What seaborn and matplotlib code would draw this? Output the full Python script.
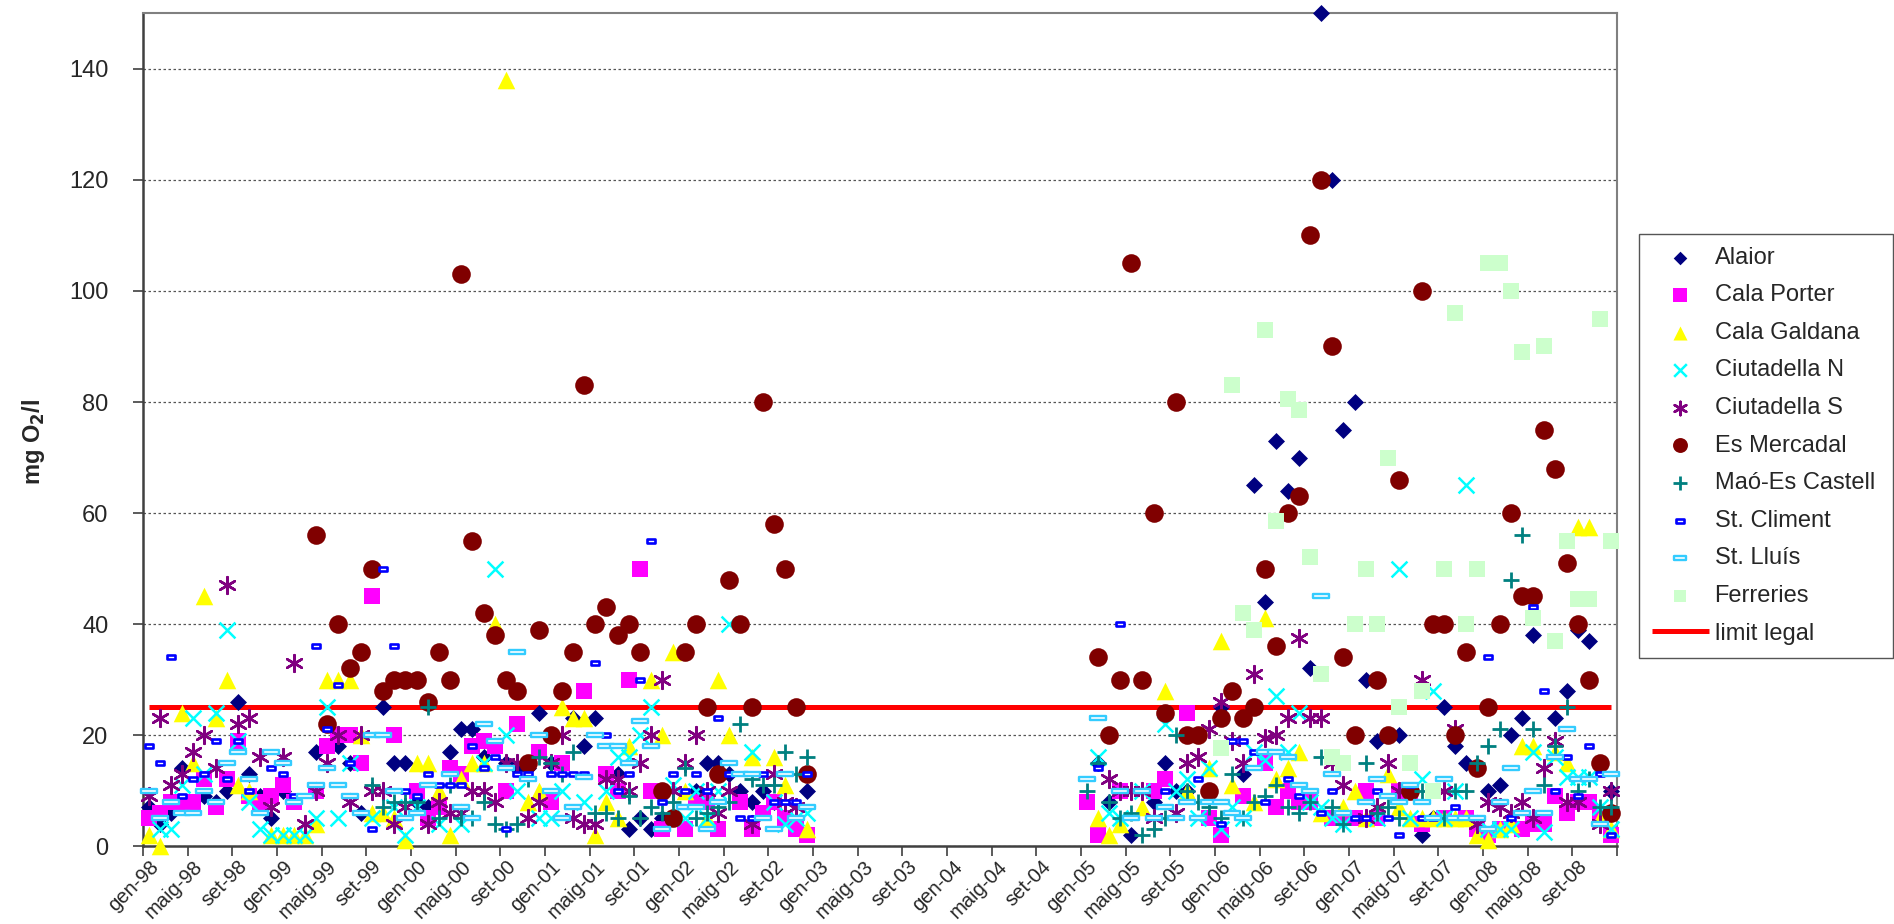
#!/usr/bin/env python3
"""
DQO a les depuradores de Menorca (1998-2008), mg O2/l per mes.
Punts mensuals per estació i la línia del límit legal.
"""

import matplotlib.pyplot as plt
import numpy as np
import pandas as pd
import seaborn as sns
from matplotlib.path import Path

# ── Categories (mesos) ─────────────────────────────────────────
MESOS = ["gen", "feb", "març", "abr", "maig", "juny",
         "jul", "ag", "set", "oct", "nov", "des"]
ANYS = ["98", "99", "00", "01", "02", "03", "04", "05", "06", "07", "08"]
CATEGORIES = [f"{m}-{a}" for a in ANYS for m in MESOS]
TICK_LABELS = CATEGORIES[::4]

LIMIT_LEGAL = 25

# ── Valors per estació {índex del mes: mg O2/l} ────────────────
ALAIOR = {0: 7, 1: 4, 2: 6, 3: 14, 5: 9, 6: 8, 7: 10, 8: 26, 9: 13, 10: 9,
          11: 5, 12: 10, 15: 17, 17: 18, 18: 15, 19: 6, 21: 25, 22: 15,
          23: 15, 24: 8, 25: 7, 27: 17, 28: 21, 29: 21, 30: 16, 32: 15,
          33: 14, 34: 14, 35: 24, 36: 15, 38: 23, 39: 18, 40: 23, 42: 13,
          43: 3, 44: 5, 45: 3, 46: 5, 49: 10, 50: 15, 51: 15, 52: 13,
          53: 10, 54: 8, 55: 10, 56: 8, 59: 10,
          85: 15, 86: 8, 88: 2, 90: 8, 91: 15, 92: 10, 93: 10, 96: 25,
          98: 13, 99: 65, 100: 44, 101: 73, 102: 64, 103: 70, 104: 32,
          105: 150, 106: 120, 107: 75, 108: 80, 109: 30, 110: 19, 112: 20,
          114: 2, 115: 5, 116: 25, 117: 18, 118: 15, 120: 10, 121: 11,
          122: 20, 123: 23, 124: 38, 126: 23, 127: 28, 128: 39, 129: 37,
          131: 10}
CALA_PORTER = {0: 5, 1: 6, 2: 8, 3: 8, 4: 8, 5: 12, 6: 7, 7: 12, 8: 19, 9: 9,
               10: 8, 11: 9, 12: 11, 13: 8, 15: 10, 16: 18, 17: 20, 18: 20,
               19: 15, 20: 45, 22: 20, 24: 10, 25: 5, 26: 7, 27: 14, 28: 13,
               29: 18, 30: 19, 31: 18, 32: 10, 33: 22, 35: 17, 36: 8, 37: 15,
               39: 28, 41: 13, 42: 10, 43: 30, 44: 50, 45: 10, 46: 3, 48: 3,
               49: 8, 50: 8, 51: 3, 53: 8, 54: 3, 55: 6, 56: 8, 57: 5, 58: 3,
               59: 2,
               84: 8, 85: 2, 87: 10, 90: 10, 91: 12, 93: 24, 95: 5, 96: 2,
               98: 9, 100: 15, 101: 7, 102: 10, 103: 8, 104: 8, 106: 5,
               107: 5, 108: 5, 109: 10, 110: 5, 112: 10, 113: 10, 114: 4,
               116: 5, 118: 5, 119: 3, 120: 2, 121: 3, 123: 3, 124: 4,
               125: 4, 126: 9, 127: 6, 128: 8, 129: 8, 130: 5, 131: 2}
CALA_GALDANA = {0: 2, 1: 0, 3: 24, 4: 15, 5: 45, 6: 23, 7: 30, 8: 11, 9: 10,
                11: 2, 12: 2, 13: 2, 14: 2, 15: 4, 16: 30, 17: 30, 18: 30,
                19: 20, 20: 6, 21: 6, 22: 5, 23: 1, 24: 15, 25: 15, 26: 10,
                27: 2, 28: 12, 29: 15, 30: 15, 31: 40, 32: 138, 34: 8, 35: 10,
                37: 25, 38: 23, 39: 23, 40: 2, 41: 8, 42: 5, 43: 18, 45: 30,
                46: 20, 47: 35, 48: 10, 50: 5, 51: 30, 52: 20, 54: 16, 56: 16,
                57: 11, 59: 3,
                85: 5, 86: 2, 87: 4, 89: 7, 91: 28, 93: 10, 95: 14, 96: 37,
                97: 11, 99: 8, 100: 41, 101: 12, 102: 14, 103: 17, 105: 6,
                107: 7, 108: 10, 109: 5, 111: 13, 112: 7, 113: 5, 114: 5,
                115: 5, 116: 5, 117: 5, 118: 5, 119: 2, 120: 1, 121: 3,
                122: 4, 123: 18, 124: 18, 126: 17, 127: 15, 128: 57.5,
                129: 57.5, 130: 5, 131: 3}
CIUTADELLA_N = {1: 3, 2: 3, 3: 11, 4: 23, 5: 13, 6: 24, 7: 39, 8: 19, 9: 8,
                10: 3, 11: 2, 12: 2, 13: 2, 14: 2, 15: 5, 16: 25, 17: 5,
                18: 15, 20: 5, 22: 7, 23: 2, 24: 7, 26: 4, 28: 4, 30: 15,
                31: 50, 32: 20, 33: 10, 35: 5, 36: 5, 37: 10, 39: 8, 41: 10,
                42: 16, 43: 16, 44: 20, 45: 25, 47: 11, 48: 5, 49: 10, 50: 5,
                51: 10, 52: 40, 54: 17, 56: 8, 57: 4, 58: 5, 59: 6,
                85: 16, 86: 6, 87: 5, 89: 10, 91: 22, 92: 10, 93: 12, 94: 5,
                95: 14, 96: 3, 97: 7, 98: 5, 99: 17, 100: 15.5, 101: 27,
                102: 17, 103: 24, 104: 8, 105: 7, 106: 5, 107: 4, 110: 5,
                112: 50, 113: 5, 114: 12, 115: 28, 116: 5, 117: 10, 118: 65,
                120: 3, 121: 3, 122: 3, 124: 17, 125: 2.6, 126: 16, 127: 12.5,
                128: 12.5, 129: 12.5, 130: 7, 131: 3}
CIUTADELLA_S = {0: 9, 1: 23, 2: 11, 3: 13, 4: 17, 5: 20, 6: 14, 7: 47, 8: 22,
                9: 23, 10: 16, 11: 7, 12: 16, 13: 33, 14: 4, 15: 10, 16: 15,
                17: 20, 18: 8, 19: 20, 20: 10, 21: 10, 22: 4, 23: 7, 25: 4,
                26: 8, 27: 6, 28: 6, 29: 10, 30: 10, 31: 8, 32: 15, 33: 15,
                34: 5, 35: 8, 36: 15, 37: 20, 38: 5, 39: 4, 40: 4, 41: 12,
                42: 12, 43: 10, 44: 15, 45: 20, 46: 30, 47: 10, 48: 15, 49: 20,
                50: 10, 51: 6, 52: 10, 54: 4, 56: 13, 57: 8, 58: 7,
                86: 12, 87: 10, 88: 10, 89: 10, 90: 5, 92: 6, 93: 15, 94: 16,
                95: 21, 96: 26, 97: 19, 98: 15, 99: 31, 100: 19.5, 101: 20,
                102: 23, 103: 37.5, 104: 23, 105: 23, 106: 15, 107: 11, 109: 5,
                110: 7, 111: 15, 112: 10, 114: 30, 116: 10, 117: 21, 119: 4,
                120: 8, 121: 7, 122: 6, 123: 8, 124: 5, 125: 14, 126: 19,
                127: 8, 128: 8, 130: 4, 131: 10}
ES_MERCADAL = {15: 56, 16: 22, 17: 40, 18: 32, 19: 35, 20: 50, 21: 28, 22: 30,
               23: 30, 24: 30, 25: 26, 26: 35, 27: 30, 28: 103, 29: 55, 30: 42,
               31: 38, 32: 30, 33: 28, 34: 15, 35: 39, 36: 20, 37: 28, 38: 35,
               39: 83, 40: 40, 41: 43, 42: 38, 43: 40, 44: 35, 46: 10, 47: 5,
               48: 35, 49: 40, 50: 25, 51: 13, 52: 48, 53: 40, 54: 25, 55: 80,
               56: 58, 57: 50, 58: 25, 59: 13,
               85: 34, 86: 20, 87: 30, 88: 105, 89: 30, 90: 60, 91: 24, 92: 80,
               93: 20, 94: 20, 95: 10, 96: 23, 97: 28, 98: 23, 99: 25,
               100: 50, 101: 36, 102: 60, 103: 63, 104: 110, 105: 120,
               106: 90, 107: 34, 108: 20, 110: 30, 111: 20, 112: 66, 113: 10,
               114: 100, 115: 40, 116: 40, 117: 20, 118: 35, 119: 14, 120: 25,
               121: 40, 122: 60, 123: 45, 124: 45, 125: 75, 126: 68, 127: 51,
               128: 40, 129: 30, 130: 15, 131: 6}
MAO_ES_CASTELL = {20: 11, 21: 7, 22: 8, 23: 8, 24: 8, 25: 25, 26: 5, 27: 11,
                  28: 5, 29: 5, 30: 8, 31: 4, 32: 3, 33: 4, 34: 12, 35: 16,
                  36: 15, 37: 13, 38: 17, 40: 6, 41: 6, 42: 5, 43: 9, 44: 5,
                  45: 7, 46: 6, 47: 8, 48: 14, 49: 5, 50: 6, 51: 7, 52: 8,
                  53: 22, 54: 12, 55: 11, 56: 11, 57: 17, 58: 13, 59: 16,
                  84: 10, 85: 15, 86: 8, 87: 5, 88: 6, 89: 2, 90: 3, 91: 5,
                  92: 20, 93: 10, 94: 8, 95: 7, 96: 5, 97: 13, 98: 5, 99: 8,
                  100: 9, 101: 11, 102: 7, 103: 6, 104: 8, 105: 16, 106: 7,
                  107: 4, 109: 15, 110: 6, 111: 7, 112: 5, 114: 10, 116: 5,
                  117: 10, 118: 10, 119: 15, 120: 18, 121: 21, 122: 48,
                  123: 56, 124: 21, 125: 11, 126: 18, 127: 25, 128: 10,
                  129: 12, 130: 7, 131: 7}
ST_CLIMENT = {0: 18, 1: 15, 2: 34, 3: 9, 4: 12, 5: 13, 6: 19, 7: 12, 8: 19,
              9: 10, 11: 14, 12: 13, 13: 9, 15: 36, 16: 21, 17: 29, 18: 15,
              20: 3, 21: 50, 22: 36, 23: 10, 24: 9, 25: 13, 26: 11, 27: 11,
              28: 11, 29: 18, 30: 14, 31: 16, 32: 3, 33: 13, 34: 13, 36: 13,
              37: 13, 38: 13, 39: 13, 40: 33, 41: 20, 42: 10, 43: 13, 44: 30,
              45: 55, 46: 8, 47: 13, 48: 10, 49: 13, 50: 10, 51: 23, 52: 13,
              53: 5, 54: 5, 55: 13, 56: 8, 57: 8, 58: 8, 59: 13,
              85: 14, 87: 40, 91: 10, 94: 12, 96: 4, 97: 19, 98: 19, 99: 17,
              100: 8, 102: 12, 103: 9, 105: 6, 106: 10, 108: 5, 109: 5,
              110: 10, 111: 5, 112: 2, 113: 11, 114: 5, 115: 5, 117: 7,
              120: 34, 122: 5, 124: 43, 125: 28, 126: 10, 127: 16, 128: 9,
              129: 18, 130: 13, 131: 2}
ST_LLUIS = {0: 10, 1: 5, 2: 8, 3: 6, 4: 6, 5: 10, 6: 8, 7: 15, 8: 17, 9: 12,
            10: 6, 11: 17, 12: 15, 13: 8, 14: 9, 15: 11, 16: 14, 17: 11,
            18: 9, 19: 6, 20: 20, 21: 20, 22: 10, 23: 5, 24: 6, 25: 11,
            27: 13, 28: 7, 29: 5, 30: 22, 31: 19, 32: 14, 33: 35, 34: 12,
            35: 20, 36: 10, 37: 5, 38: 7, 39: 12.5, 40: 20, 41: 18, 42: 18,
            43: 15, 44: 22.5, 45: 18, 46: 3, 48: 7, 49: 7, 50: 3, 51: 8,
            52: 15, 53: 13, 54: 13, 55: 5, 56: 3, 57: 13, 58: 5, 59: 7,
            84: 12, 85: 23, 87: 10, 88: 5, 89: 10, 90: 5, 91: 7, 92: 5,
            93: 8, 94: 5, 95: 8, 96: 8, 97: 6, 98: 5, 99: 14, 100: 17,
            101: 17, 102: 16, 103: 11, 104: 10, 105: 45, 106: 13, 107: 6,
            109: 8, 110: 12, 111: 9, 112: 8, 113: 11, 114: 8, 115: 5,
            116: 12, 117: 5, 118: 5, 119: 5, 120: 3, 121: 8, 122: 14,
            123: 6, 124: 10, 125: 6, 126: 16, 127: 21, 128: 12, 129: 12,
            130: 4, 131: 13}
FERRERIES = {96: 17.6, 97: 83, 98: 42, 99: 39, 100: 93, 101: 58.5, 102: 80.5,
             103: 78.5, 104: 52, 105: 31, 106: 16, 107: 15, 108: 40, 109: 50,
             110: 40, 111: 70, 112: 25, 113: 15, 114: 28, 115: 10, 116: 50,
             117: 96, 118: 40, 119: 50, 120: 105, 121: 105, 122: 100,
             123: 89, 124: 41, 125: 90, 126: 37, 127: 55, 128: 44.5,
             129: 44.5, 130: 95, 131: 55}

SERIES = {
    "Alaior": ALAIOR,
    "Cala Porter": CALA_PORTER,
    "Cala Galdana": CALA_GALDANA,
    "Ciutadella N": CIUTADELLA_N,
    "Ciutadella S": CIUTADELLA_S,
    "Es Mercadal": ES_MERCADAL,
    "Maó-Es Castell": MAO_ES_CASTELL,
    "St. Climent": ST_CLIMENT,
    "St. Lluís": ST_LLUIS,
    "Ferreries": FERRERIES,
}


def rect_marker(ratio):
    """Marcador rectangular allargat (com els 'guions' d'Excel)."""
    verts = [(-1, -ratio), (1, -ratio), (1, ratio), (-1, ratio), (-1, -ratio)]
    codes = [Path.MOVETO, Path.LINETO, Path.LINETO, Path.LINETO, Path.CLOSEPOLY]
    return Path(verts, codes)


ESTILS = {
    "Alaior": dict(marker="D", s=75, color="#000080", edgecolor="#000080", linewidth=0),
    "Cala Porter": dict(marker="s", s=140, color="#FF00FF", edgecolor="#FF00FF", linewidth=0),
    "Cala Galdana": dict(marker="^", s=160, color="#FFFF00", edgecolor="#FFFF00", linewidth=0),
    "Ciutadella N": dict(marker="x", s=130, color="#00FFFF", edgecolor="#00FFFF", linewidth=1.8),
    "Ciutadella S": dict(marker=(6, 2, 0), s=145, color="#800080", edgecolor="#800080", linewidth=1.8),
    "Es Mercadal": dict(marker="o", s=180, color="#800000", edgecolor="#800000", linewidth=0),
    "Maó-Es Castell": dict(marker="+", s=145, color="#008080", edgecolor="#008080", linewidth=2.0),
    "St. Climent": dict(marker=rect_marker(0.55), s=40, color="white", edgecolor="#0000FF", linewidth=1.9),
    "St. Lluís": dict(marker=rect_marker(0.28), s=135, color="white", edgecolor="#33CCFF", linewidth=1.7),
    "Ferreries": dict(marker="s", s=130, color="#CCFFCC", edgecolor="#CCFFCC", linewidth=0),
}

sns.set_theme(style="white")
plt.rcParams["font.family"] = ["Liberation Sans", "DejaVu Sans"]


def taula_llarga() -> pd.DataFrame:
    files = []
    for estacio, valors in SERIES.items():
        for mes, v in valors.items():
            files.append({"estacio": estacio, "mes": mes, "valor": v})
    return pd.DataFrame(files)


def main():
    df = taula_llarga()

    fig, ax = plt.subplots(figsize=(18.94, 9.24), dpi=100)
    fig.subplots_adjust(left=0.0755, right=0.8537, bottom=0.0844, top=0.9854)

    # línia del límit legal, del primer al darrer mes
    ax.plot([0, len(CATEGORIES) - 1], [LIMIT_LEGAL, LIMIT_LEGAL],
            color="#FF0000", lw=3.6, zorder=2.5, label="limit legal",
            solid_capstyle="butt")

    for i, (estacio, estil) in enumerate(ESTILS.items()):
        sub = df[df["estacio"] == estacio]
        sns.scatterplot(data=sub, x="mes", y="valor", ax=ax, label=estacio,
                        zorder=3 + i, clip_on=False, legend=False, **estil)

    ax.set_xlim(-0.5, len(CATEGORIES) - 0.5)
    ax.set_ylim(0, 150)

    ax.set_xticks(range(0, len(CATEGORIES), 4))
    ax.set_xticklabels(TICK_LABELS, rotation=45, ha="right", va="top",
                       rotation_mode="anchor", fontsize=14.5)
    ax.set_xticks(np.arange(-0.5, len(CATEGORIES), 4), minor=True)
    ax.tick_params(axis="x", which="major", length=0, pad=8)
    ax.tick_params(axis="x", which="minor", length=7, width=1.2, color="#404040",
                   bottom=True)

    ax.set_yticks(range(0, 141, 20))
    ax.tick_params(axis="y", which="major", length=7, width=1.2, color="#404040",
                   labelsize=17, pad=18, left=True)

    ax.yaxis.grid(True, linestyle=(0, (2, 2)), color="#555555", lw=0.9)
    ax.xaxis.grid(False)
    ax.set_axisbelow(True)

    ax.set_xlabel("")
    ax.set_ylabel(r"mg O$_\mathbf{2}$/l", fontsize=17, fontweight="bold")
    ax.yaxis.set_label_coords(-0.065, 0.485)

    for lado in ["left", "bottom"]:
        ax.spines[lado].set_color("#404040")
        ax.spines[lado].set_linewidth(1.8)
    for lado in ["top", "right"]:
        ax.spines[lado].set_color("#808080")
        ax.spines[lado].set_linewidth(1.5)

    handles, labels = ax.get_legend_handles_labels()
    ordre = labels[1:] + labels[:1]
    hordre = handles[1:] + handles[:1]
    leg = ax.legend(hordre, ordre, loc="upper left",
                    bbox_to_anchor=(1639 / 1894, 1 - 243 / 924, 254 / 1894, 0.01),
                    bbox_transform=fig.transFigure, mode="expand",
                    borderaxespad=0, fontsize=17, frameon=True, fancybox=False,
                    framealpha=1, edgecolor="#555555", borderpad=0.55,
                    handlelength=2.4, handletextpad=0.25, labelspacing=0.66,
                    markerscale=0.8)
    leg.get_frame().set_linewidth(1.0)

    fig.savefig("out.png", dpi=100)
    plt.close(fig)


if __name__ == "__main__":
    main()
